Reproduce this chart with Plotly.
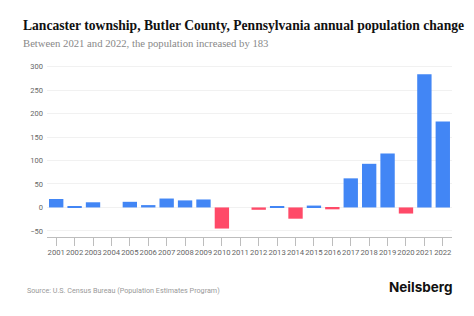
import plotly.graph_objects as go

years = [str(y) for y in range(2001, 2023)]
changes = [18, 2, 11, 0, 12, 5, 19, 15, 17, -45, 0, -5, 2, -24, 4, -4, 62, 93, 115, -13, 284, 183]
y_ticks = [-50, 0, 50, 100, 150, 200, 250, 300]

colors = ["#4286F5" if v >= 0 else "#FF4A68" for v in changes]

fig = go.Figure(go.Bar(x=years, y=changes, marker=dict(color=colors, line=dict(width=0)),
                       width=0.78))

fig.update_layout(
    width=474, height=316,
    margin=dict(l=47, r=22, t=62, b=79),
    paper_bgcolor="white", plot_bgcolor="white",
    showlegend=False,
    bargap=0.2,
    font=dict(family="Roboto, sans-serif"),
)
fig.update_xaxes(
    type="category", showgrid=False, showline=True, linecolor="#bdbdbd", linewidth=1,
    ticks="outside", ticklen=8, tickcolor="#bdbdbd", tickangle=0,
    tickfont=dict(size=7.7, color="#666666"),
)
fig.update_yaxes(
    range=[-63, 310], tickvals=y_ticks, showgrid=True, gridcolor="#f1f1f1", gridwidth=1,
    zeroline=False, showline=False, ticks="", ticklabelstandoff=3,
    tickfont=dict(size=7.5, color="#666666"),
)

fig.add_annotation(text="<b>Lancaster township, Butler County, Pennsylvania annual population change</b>",
                   xref="paper", yref="paper", x=0, xanchor="left", y=1, yanchor="middle",
                   xshift=-26, yshift=37, showarrow=False,
                   font=dict(family="Liberation Serif", size=13.6, color="#111111"))
fig.add_annotation(text="Between 2021 and 2022, the population increased by 183",
                   xref="paper", yref="paper", x=0, xanchor="left", y=1, yanchor="middle",
                   xshift=-26, yshift=19, showarrow=False,
                   font=dict(family="Liberation Serif", size=10.7, color="#888888"))
fig.add_annotation(text="Source: U.S. Census Bureau (Population Estimates Program)",
                   xref="paper", yref="paper", x=0, xanchor="left", y=0, yanchor="middle",
                   xshift=-22, yshift=-53, showarrow=False,
                   font=dict(family="Roboto", size=7.2, color="#999999"))
fig.add_annotation(text="<b>Neilsberg</b>",
                   xref="paper", yref="paper", x=1, xanchor="right", y=0, yanchor="middle",
                   xshift=2, yshift=-50, showarrow=False,
                   font=dict(family="Inter, Roboto", size=13.5, color="#111111"))

fig.write_html("out.html")
